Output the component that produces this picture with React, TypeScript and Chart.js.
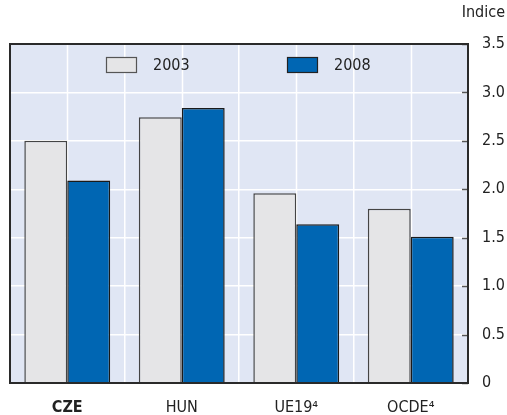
import React, { useEffect, useRef } from "react";
import { Chart, registerables } from "chart.js";

Chart.register(...registerables);

const categories = ["CZE", "HUN", "UE19⁴", "OCDE⁴"];
const seriesLabels = ["2003", "2008"];
const values2003 = [2.5, 2.745, 1.96, 1.8];
const values2008 = [2.09, 2.84, 1.64, 1.51];
const yTicks = [0, 0.5, 1, 1.5, 2, 2.5, 3, 3.5];
const unitLabel = "Indice";

const FONT = "'Liberation Sans Narrow', 'DejaVu Sans Condensed', 'Roboto', sans-serif";
const FS = 16;
const TEXT = "#222";
const BG = "#e0e6f4";
const FILL03 = "#e5e5e7";
const FILL08 = "#0066b3";

const decorPlugin = {
  id: "decor",
  beforeDraw(chart: any) {
    const { ctx, chartArea: a } = chart;
    ctx.save();
    ctx.fillStyle = BG;
    ctx.fillRect(a.left, a.top, a.right - a.left, a.bottom - a.top);
    ctx.restore();
  },
  beforeDatasetsDraw(chart: any) {
    const { ctx, chartArea: a } = chart;
    const xs = chart.scales.x;
    ctx.save();
    ctx.strokeStyle = "#ffffff";
    ctx.lineWidth = 1.5;
    for (let i = 0; i < categories.length; i++) {
      const x = Math.round(xs.getPixelForValue(i)) + 0.5;
      ctx.beginPath();
      ctx.moveTo(x, a.top);
      ctx.lineTo(x, a.bottom);
      ctx.stroke();
    }
    ctx.restore();
  },
  afterDatasetsDraw(chart: any) {
    const { ctx, chartArea: a } = chart;
    const ys = chart.scales.y;
    ctx.save();
    ctx.strokeStyle = "#555";
    ctx.lineWidth = 1.5;
    for (const v of yTicks) {
      const y = Math.round(ys.getPixelForValue(v)) + 0.5;
      ctx.beginPath();
      ctx.moveTo(a.right - 6, y);
      ctx.lineTo(a.right, y);
      ctx.stroke();
    }
    ctx.strokeStyle = "#2a2a2a";
    ctx.lineWidth = 2;
    ctx.strokeRect(a.left, a.top, a.right - a.left, a.bottom - a.top);
    const items = [
      { label: seriesLabels[0], fill: FILL03, stroke: "#555", x: 106 },
      { label: seriesLabels[1], fill: FILL08, stroke: "#222", x: 287 },
    ];
    ctx.font = `${FS}px ${FONT}`;
    ctx.textBaseline = "middle";
    ctx.textAlign = "left";
    for (const it of items) {
      ctx.fillStyle = it.fill;
      ctx.fillRect(it.x, 57, 30, 16);
      ctx.strokeStyle = it.stroke;
      ctx.lineWidth = 1.2;
      ctx.strokeRect(it.x + 0.5, 57.5, 30, 15);
      ctx.fillStyle = TEXT;
      ctx.fillText(it.label, it.x + 47, 66);
    }
    ctx.textAlign = "right";
    ctx.fillText(unitLabel, 505, 13);
    ctx.restore();
  },
};

export default function App() {
  const ref = useRef<HTMLCanvasElement | null>(null);
  useEffect(() => {
    if (!ref.current) return;
    const chart = new Chart(ref.current, {
      type: "bar",
      data: {
        labels: categories,
        datasets: [
          {
            label: seriesLabels[0],
            data: values2003,
            backgroundColor: FILL03,
            borderColor: "#444",
            borderWidth: 1.5,
          },
          {
            label: seriesLabels[1],
            data: values2008,
            backgroundColor: FILL08,
            borderColor: "#1a1a1a",
            borderWidth: 1.5,
          },
        ],
      },
      options: {
        animation: false,
        responsive: false,
        maintainAspectRatio: false,
        layout: { padding: { left: 10, top: 44, right: 0, bottom: 0 } },
        plugins: { legend: { display: false }, tooltip: { enabled: false } },
        datasets: { bar: { barPercentage: 1, categoryPercentage: 0.75 } },
        scales: {
          x: {
            grid: { color: "#ffffff", lineWidth: 1.5, drawTicks: false, offset: true },
            border: { display: false },
            ticks: {
              color: TEXT,
              padding: 15,
              font: (c: any) => ({
                family: FONT,
                size: FS,
                weight: c.index === 0 ? "bold" : "normal",
              }),
            },
            afterFit: (s: any) => {
              s.height = 32;
            },
          },
          y: {
            position: "right",
            min: 0,
            max: 3.5,
            grid: { color: "#ffffff", lineWidth: 1.5, drawTicks: false },
            border: { display: false },
            ticks: {
              stepSize: 0.5,
              color: TEXT,
              padding: 14,
              font: { family: FONT, size: FS },
              callback: (v: any) => (Number(v) === 0 ? "0" : Number(v).toFixed(1)),
            },
            afterFit: (s: any) => {
              s.width = 39;
            },
          },
        },
      },
      plugins: [decorPlugin],
    });
    return () => chart.destroy();
  }, []);
  return (
    <div style={{ position: "absolute", left: 0, top: 0, width: 507, height: 415 }}>
      <canvas ref={ref} width={507} height={415} style={{ display: "block" }} />
    </div>
  );
}
